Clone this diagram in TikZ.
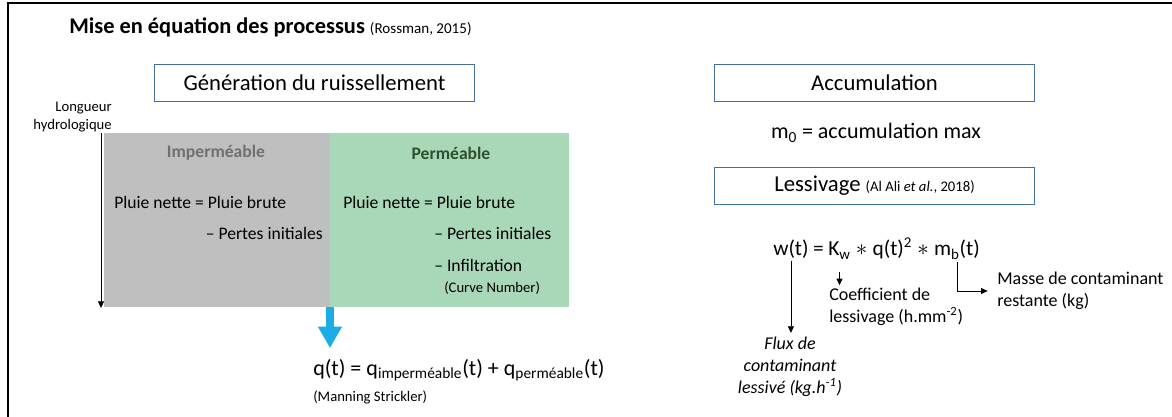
\documentclass[tikz,border=0pt]{standalone}
\usepackage{fontspec}
\setmainfont{Carlito}
\usetikzlibrary{arrows.meta,positioning}

\definecolor{boxblue}{RGB}{65,113,156}
\definecolor{impgray}{RGB}{191,191,191}
\definecolor{permgreen}{RGB}{169,216,185}
\definecolor{imptext}{RGB}{112,112,112}
\definecolor{permtext}{RGB}{45,80,45}
\definecolor{flowblue}{RGB}{28,173,228}
\newcommand{\fsz}[2]{\fontsize{#1}{#2}\selectfont}

\tikzset{
  titlebox/.style={draw=boxblue, line width=0.8pt, minimum width=240pt, minimum height=27.5pt, inner sep=0pt, font=\fsz{17}{20}},
  eqtxt/.style={inner sep=0pt, font=\fsz{16.5}{20}},
  bodytxt/.style={inner sep=0pt, font=\fsz{13.2}{16}},
  smalltxt/.style={inner sep=0pt, font=\fsz{11}{14}},
  lbltxt/.style={inner sep=0pt, font=\fsz{13.5}{16.5}, align=left},
  arr/.style={-{Triangle[length=5pt,width=4.5pt]}, line width=0.6pt},
}

\begin{document}
\begin{tikzpicture}[x=0.75pt, y=-0.75pt]
\useasboundingbox (0,0) rectangle (1172,417);
% cadre
\draw[line width=1.5pt] (8,418) -- (8,3) -- (1173,3);
\node[anchor=west, inner sep=0pt] (title) at (69,27) {\fsz{16.8}{19}\bfseries Mise en équation des processus \fsz{11.3}{13}\mdseries(Rossman, 2015)};

% ruissellement
\node[titlebox] (gen) at (314.5,83) {Génération du ruissellement};
\fill[impgray] (104,133) rectangle (330,307);
\fill[permgreen] (330,133) rectangle (569,307);
\coordinate (lentop) at (101,133);
\coordinate (lenbot) at (101,308);
\coordinate (split) at (330,307);
\coordinate (qtop) at (330,348);
\node[smalltxt, align=right, anchor=east] (longueur) at (112,117) {Longueur\\hydrologique};
\draw[arr] (lentop) -- (lenbot);
\node[bodytxt, font=\fsz{13.2}{16}\bfseries, text=imptext] (imp) at (216,153) {Imperméable};
\node[bodytxt, font=\fsz{13.2}{16}\bfseries, text=permtext] (perm) at (451,153) {Perméable};
\node[bodytxt, anchor=west] (imppluie) at (114,202) {Pluie nette = Pluie brute};
\node[bodytxt, anchor=east] (imppertes) at (323,233) {-- Pertes initiales};
\node[bodytxt, anchor=west] (permpluie) at (343,202) {Pluie nette = Pluie brute};
\node[bodytxt, anchor=west] (permpertes) at (434,233) {-- Pertes initiales};
\node[bodytxt, anchor=west] (perminf) at (434,265) {-- Infiltration};
\node[smalltxt, anchor=west] (curve) at (444,288) {(Curve Number)};
\draw[flowblue, line width=6pt, -{Triangle[length=16pt,width=17pt]}] (split) -- (qtop);
\node[eqtxt, anchor=west] (qeq) at (313,370) {q(t) = q\textsubscript{imperméable}(t) + q\textsubscript{perméable}(t)};
\node[smalltxt, anchor=west] (manning) at (313,397) {(Manning Strickler)};

% accumulation et lessivage
\node[titlebox] (acc) at (874.5,83) {Accumulation};
\node[eqtxt] (mzero) at (876,133) {m\textsubscript{0} = accumulation max};
\node[titlebox] (less) at (874.5,186) {Lessivage {\fsz{11}{13}(Al Ali \textit{et al.}, 2018)}};
\node[eqtxt, font=\fsz{16}{20}, anchor=base west] (wt) at (773,256) {w(t)};
\node[eqtxt, font=\fsz{16}{20}, base right=3pt of wt] (eqsign) {=};
\node[eqtxt, font=\fsz{16}{20}, base right=3pt of eqsign] (kw) {K\textsubscript{w}};
\node[eqtxt, font=\fsz{16}{20}, base right=3.5pt of kw] (opa) {$\ast$};
\node[eqtxt, font=\fsz{16}{20}, base right=3.5pt of opa] (qt) {q(t)\textsuperscript{2}};
\node[eqtxt, font=\fsz{16}{20}, base right=3.5pt of qt] (opb) {$\ast$};
\node[eqtxt, font=\fsz{16}{20}, base right=3.5pt of opb] (mb) {m\textsubscript{b}(t)};
\coordinate (wfoot) at ([yshift=-1pt]wt.south);
\coordinate (kfoot) at ([yshift=-9pt]kw.south);
\coordinate (mfoot) at ([yshift=-2pt]mb.south);
\node[lbltxt, align=center, font=\fsz{13.5}{16.5}\itshape] (flux) at (790,367) {Flux de\\contaminant\\lessivé (kg.h\textsuperscript{-1})};
\node[lbltxt, anchor=west] (coef) at (829,307) {Coefficient de\\lessivage (h.mm\textsuperscript{-2})};
\node[lbltxt, anchor=west] (masse) at (997,291) {Masse de contaminant\\restante (kg)};
\draw[arr] (wfoot) -- ([yshift=3pt]wfoot |- flux.north);
\draw[arr] (kfoot) -- ([yshift=2pt]kfoot |- coef.north);
\draw[arr] (mfoot) |- ([xshift=-7pt]masse.west);
\end{tikzpicture}
\end{document}
